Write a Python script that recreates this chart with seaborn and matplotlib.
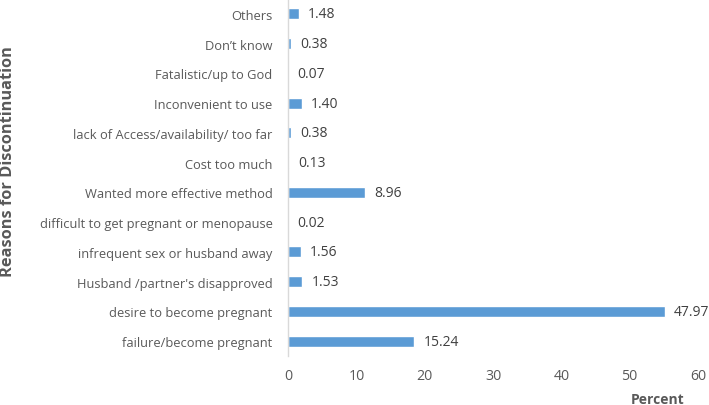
import matplotlib
matplotlib.use("Agg")
import matplotlib.pyplot as plt
import seaborn as sns
import pandas as pd

# reasons, top to bottom as in the chart
reasons = [
    "Others",
    "Don\u2019t know",
    "Fatalistic/up to God",
    "Inconvenient to use",
    "lack of Access/availability/ too far",
    "Cost too much",
    "Wanted more effective method",
    "difficult to get pregnant or menopause",
    "infrequent sex or husband away",
    "Husband /partner's disapproved",
    "desire to become pregnant",
    "failure/become pregnant",
]
# bar lengths as drawn in the picture (they run longer than the printed labels)
bar_lengths = [1.6, 0.4, 0.05, 2.0, 0.4, 0.15, 11.3, 0.02, 1.85, 2.1, 55.2, 18.5]
# printed value labels
value_labels = ["1.48", "0.38", "0.07", "1.40", "0.38", "0.13", "8.96", "0.02",
                "1.56", "1.53", "47.97", "15.24"]

df = pd.DataFrame({"reason": reasons, "percent": bar_lengths})

sns.set_style("white")
plt.rcParams['font.family'] = ['Open Sans', 'DejaVu Sans']
text_color = "#595959"

fig = plt.figure(figsize=(7.09, 4.06), dpi=100)
ax = fig.add_axes([288 / 709, 1 - 357 / 406, 410 / 709, 357 / 406])

sns.barplot(data=df, x="percent", y="reason", orient="h", color="#5B9BD5",
            saturation=1, width=0.37, ax=ax)

for i, (v, lab) in enumerate(zip(bar_lengths, value_labels)):
    ax.annotate(lab, (v, i), xytext=(6.5, 0), textcoords="offset points",
                va="center", ha="left", fontsize=10, color="#404040")

ax.set_xlim(0, 60)
ax.set_xticks([0, 10, 20, 30, 40, 50, 60])
ax.tick_params(axis="x", length=0, pad=9, labelsize=10.2, labelcolor=text_color)
ax.tick_params(axis="y", length=0, pad=11, labelsize=9.3, labelcolor=text_color)

for s in ["top", "right", "bottom"]:
    ax.spines[s].set_visible(False)
ax.spines["left"].set_color("#D9D9D9")
ax.spines["left"].set_linewidth(1)

ax.set_xlabel("")
ax.set_ylabel("")
fig.text(8 / 709, 1 - 162 / 406, "Reasons for Discontinuation", rotation=90,
         ha="center", va="center", fontsize=11.8, fontweight="bold", color=text_color)
fig.text(658 / 709, 1 - 400 / 406, "Percent", ha="center", va="center",
         fontsize=10, fontweight="bold", color=text_color)

fig.savefig("out.png", dpi=100)
